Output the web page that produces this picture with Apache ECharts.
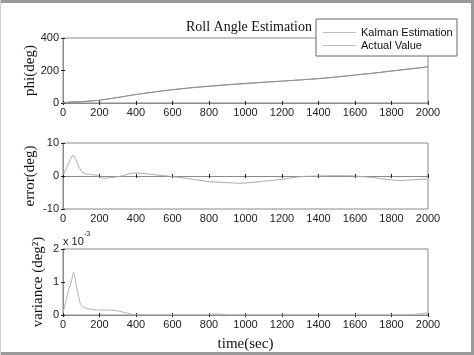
<!DOCTYPE html>
<html>
<head>
<meta charset="utf-8">
<script src="https://cdn.jsdelivr.net/npm/echarts@6/dist/echarts.min.js"></script>
<style>html,body{margin:0;padding:0;background:#fff;}#c{width:474px;height:355px;}</style>
</head>
<body>
<div id="c"></div>
<script>
// ---- data ----
var xTicks = [0, 200, 400, 600, 800, 1000, 1200, 1400, 1600, 1800, 2000];

var phiT    = [0, 50, 100, 200, 300, 400, 500, 600, 700, 800, 900, 1000, 1100, 1200, 1300, 1400, 1500, 1600, 1700, 1800, 1900, 2000];
var actual  = [0, 3, 7, 17, 34, 52, 68, 82, 94, 104, 113, 121, 128, 135, 142, 150, 160, 172, 184, 197, 210, 223];
var kalman  = [1, 9, 8, 17, 34, 53, 68, 82, 93, 102, 111, 119, 127, 134, 142, 150, 160, 172, 183, 196, 209, 222];

var errT = [0, 20, 40, 55, 70, 90, 105, 130, 150, 185, 200, 222, 260, 290, 330, 370, 400, 450, 500, 600, 700, 800, 900, 970, 1100, 1200, 1300, 1400, 1500, 1600, 1700, 1800, 1850, 1900, 2000];
var err  = [0.3, 2.5, 5.0, 6.3, 5.0, 2.5, 1.1, 0.6, 0.5, 0.2, -0.3, -0.7, -0.5, -0.3, 0.1, 0.8, 0.9, 0.7, 0.4, -0.2, -0.9, -1.7, -2.0, -2.2, -1.6, -1.0, -0.2, 0.0, 0.1, 0.0, -0.5, -1.2, -1.4, -1.2, -0.9];

var varT = [0, 10, 22, 33, 45, 58, 70, 80, 95, 110, 131, 160, 205, 260, 300, 335, 370, 395, 780, 820, 860, 900, 1900, 1960, 2000];
var vari = [0.00005, 0.0003, 0.00055, 0.0008, 0.001, 0.0013, 0.001, 0.0007, 0.00035, 0.00025, 0.0002, 0.00017, 0.00015, 0.00015, 0.00012, 0.00008, 0.00003, 0, 0, 0.00003, 0.00003, 0, 0, 0.00004, 0.00007];

function pairs(t, v) { return t.map(function (x, i) { return [x, v[i]]; }); }

var chart = echarts.init(document.getElementById('c'));
var sans = 'Liberation Sans, Arial, sans-serif';
var serif = 'Liberation Serif, Times New Roman, serif';
var frame = '#8a8a8a';
var grids = [
  {left: 63, top: 38, width: 365, height: 65},
  {left: 63, top: 143, width: 365, height: 66},
  {left: 63, top: 249, width: 365, height: 66}
];
grids.forEach(function (g) { g.show = true; g.borderColor = frame; g.borderWidth = 1; g.backgroundColor = '#fff'; });

var xAxes = [], yAxes = [];
var yDefs = [
  {min: 0, max: 400, interval: 200, name: 'phi(deg)', gap: 25},
  {min: -10, max: 10, interval: 10, name: 'error(deg)', gap: 25},
  {min: 0, max: 0.002, interval: 0.001, name: 'variance (deg²)', gap: 17, fmt: function (v) { return String(Math.round(v * 1000)); }}
];
for (var i = 0; i < 3; i++) {
  xAxes.push({
    type: 'value', gridIndex: i, min: 0, max: 2000, interval: 200, position: 'bottom',
    axisLine: {show: true, lineStyle: {color: frame}},
    axisTick: {show: true, inside: true, length: 2, lineStyle: {color: '#222'}},
    axisLabel: {fontFamily: sans, fontSize: 11, color: '#222', margin: 4, formatter: function (v) { return String(v); }},
    splitLine: {show: false},
    name: i === 2 ? 'time(sec)' : '', nameLocation: 'middle', nameGap: 22, nameMoveOverlap: false,
    nameTextStyle: {fontFamily: serif, fontSize: 15, color: '#111'}
  });
  xAxes.push({
    type: 'value', gridIndex: i, min: 0, max: 2000, interval: 200, position: 'top',
    axisLine: {show: false}, axisLabel: {show: false}, splitLine: {show: false},
    axisTick: {show: true, inside: true, length: 2, lineStyle: {color: '#222'}}
  });
  var d = yDefs[i];
  yAxes.push({
    type: 'value', gridIndex: i, min: d.min, max: d.max, interval: d.interval, position: 'left',
    axisLine: {show: true, lineStyle: {color: frame}},
    axisTick: {show: true, inside: true, length: 2, lineStyle: {color: '#222'}},
    axisLabel: {fontFamily: sans, fontSize: 11, color: '#222', margin: 4, formatter: d.fmt || function (v) { return String(v); }},
    splitLine: {show: false},
    name: d.name, nameLocation: 'middle', nameRotate: 90, nameGap: d.gap, nameMoveOverlap: false,
    nameTextStyle: {fontFamily: serif, fontSize: 15, color: '#111'}
  });
  yAxes.push({
    type: 'value', gridIndex: i, min: d.min, max: d.max, interval: d.interval, position: 'right',
    axisLine: {show: false}, axisLabel: {show: false}, splitLine: {show: false},
    axisTick: {show: true, inside: true, length: 2, lineStyle: {color: '#222'}}
  });
}

var lineBase = {type: 'line', symbol: 'none', showSymbol: false, animation: false};
var legendIcon = 'path://M0,0 L33,0 L33,1 L0,1 Z';
chart.setOption({
  animation: false,
  backgroundColor: '#fff',
  title: {text: 'Roll Angle Estimation', left: 244, top: 15, textAlign: 'center',
    textStyle: {fontFamily: serif, fontSize: 14, fontWeight: 'normal', color: '#111'}},
  legend: {
    orient: 'vertical', left: 318, top: 22, itemWidth: 33, itemHeight: 1, itemGap: 2,
    data: [{name: 'Kalman Estimation', icon: legendIcon}, {name: 'Actual Value', icon: legendIcon}],
    textStyle: {fontFamily: sans, fontSize: 11, color: '#111', padding: [0, 0, 0, 0]}, z: 20
  },
  grid: grids,
  xAxis: xAxes,
  yAxis: yAxes,
  series: [
    Object.assign({}, lineBase, {name: 'Kalman Estimation', xAxisIndex: 0, yAxisIndex: 0, data: pairs(phiT, kalman), lineStyle: {color: '#a0a0a0', width: 1}, itemStyle: {color: '#bbb'}}),
    Object.assign({}, lineBase, {name: 'Actual Value', xAxisIndex: 0, yAxisIndex: 0, data: pairs(phiT, actual), lineStyle: {color: '#909090', width: 1}, itemStyle: {color: '#bbb'}}),
    Object.assign({}, lineBase, {name: 'error', smooth: 0.2, xAxisIndex: 2, yAxisIndex: 2, data: pairs(errT, err), lineStyle: {color: '#a8a8a8', width: 1}}),
    Object.assign({}, lineBase, {name: 'variance', smooth: 0.2, xAxisIndex: 4, yAxisIndex: 4, data: pairs(varT, vari), lineStyle: {color: '#b0b0b0', width: 1}})
  ],
  graphic: [
    {type: 'rect', shape: {x: 316, y: 19, width: 141, height: 37}, style: {fill: '#fff', stroke: '#666', lineWidth: 1}, z: 10},
    {type: 'text', x: 63, y: 236, style: {text: 'x 10', font: '11px Liberation Sans, Arial, sans-serif', fill: '#222'}, z: 10},
    {type: 'text', x: 84, y: 231, style: {text: '-3', font: '7px Liberation Sans, Arial, sans-serif', fill: '#222'}, z: 10},
    {type: 'rect', shape: {x: 0, y: 0, width: 474, height: 3}, style: {fill: '#9a9a9a'}, z: 30},
    {type: 'rect', shape: {x: 471, y: 0, width: 3, height: 355}, style: {fill: '#9a9a9a'}, z: 30},
    {type: 'rect', shape: {x: 0, y: 352, width: 474, height: 3}, style: {fill: '#9a9a9a'}, z: 30},
    {type: 'rect', shape: {x: 0, y: 0, width: 1, height: 355}, style: {fill: '#d0d0d0'}, z: 30}
  ]
});
</script>
</body>
</html>
